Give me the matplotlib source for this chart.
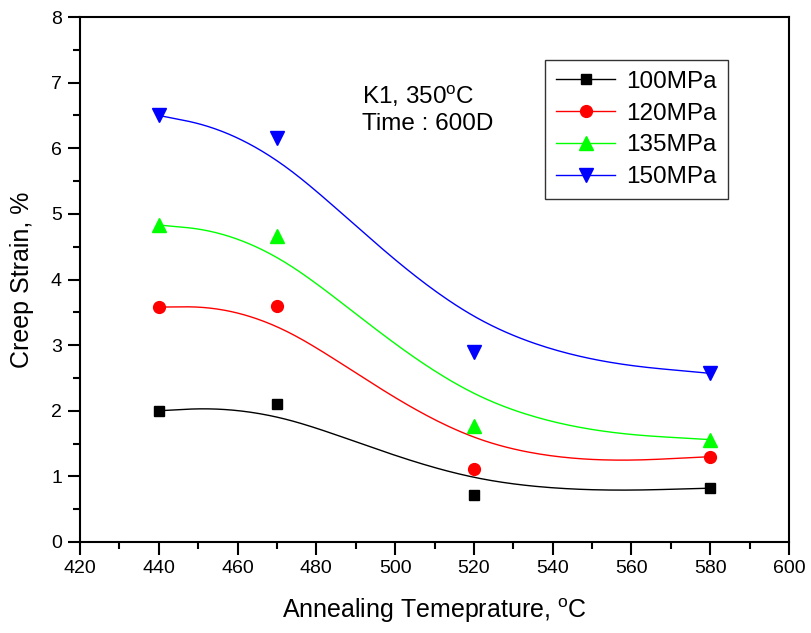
import numpy as np
import matplotlib
matplotlib.use("Agg")
import matplotlib.pyplot as plt
from matplotlib.ticker import MultipleLocator

plt.rcParams['font.family'] = ['Liberation Sans', 'DejaVu Sans']
plt.rcParams['mathtext.fontset'] = 'custom'
plt.rcParams['mathtext.rm'] = 'Liberation Sans'

temps = [440, 470, 520, 580]
s100 = [2.0, 2.1, 0.72, 0.82]
s120 = [3.58, 3.6, 1.12, 1.3]
s135 = [4.83, 4.67, 1.77, 1.56]
s150 = [6.5, 6.15, 2.9, 2.57]
labels = ['100MPa', '120MPa', '135MPa', '150MPa']

series = [s100, s120, s135, s150]
colors = ['#000000', '#FF0000', '#00FF00', '#0000FF']
markers = ['s', 'o', '^', 'v']
msizes = [7.5, 8.5, 9.5, 9.5]


def bspline(xs, ys, n=60):
    """Uniform cubic B-spline, data points as control points, ends tripled."""
    P = np.column_stack([xs, ys]).astype(float)
    Q = np.vstack([P[0], P[0], P, P[-1], P[-1]])
    t = np.linspace(0, 1, n)[:, None]
    b0 = (1 - t) ** 3 / 6
    b1 = (3 * t ** 3 - 6 * t ** 2 + 4) / 6
    b2 = (-3 * t ** 3 + 3 * t ** 2 + 3 * t + 1) / 6
    b3 = t ** 3 / 6
    out = [b0 * Q[i] + b1 * Q[i + 1] + b2 * Q[i + 2] + b3 * Q[i + 3]
           for i in range(len(Q) - 3)]
    pts = np.vstack(out)
    return pts[:, 0], pts[:, 1]


fig = plt.figure(figsize=(8.11, 6.33), dpi=100)
ax = fig.add_axes([80 / 811, 1 - 542 / 633, (789 - 80) / 811, (542 - 17) / 633])

for ys, c, m, ms, lab in zip(series, colors, markers, msizes, labels):
    cx, cy = bspline(temps, ys)
    ax.plot(cx, cy, color=c, lw=1.0)
    ax.plot(temps, ys, ls='none', marker=m, ms=ms, color=c)
    ax.plot([], [], color=c, lw=1.0, marker=m, ms=ms, label=lab)

ax.set_xlim(420, 600)
ax.set_ylim(0, 8)
ax.xaxis.set_major_locator(MultipleLocator(20))
ax.xaxis.set_minor_locator(MultipleLocator(10))
ax.yaxis.set_major_locator(MultipleLocator(1))
ax.yaxis.set_minor_locator(MultipleLocator(0.5))
ax.tick_params(which='major', direction='out', length=9, width=1.5, labelsize=14, pad=4)
ax.tick_params(which='minor', direction='out', length=5, width=1.5)
for sp in ax.spines.values():
    sp.set_linewidth(1.5)

ax.set_xlabel(r'Annealing Temeprature, $^\mathrm{o}$C', fontsize=18, labelpad=14)
ax.set_ylabel('Creep Strain, %', fontsize=18, labelpad=12)

fig.text(362 / 811, 1 - 109 / 633, 'K1, 350$^\\mathrm{o}$C\nTime : 600D', fontsize=17.5,
         va='center', ha='left', linespacing=1.25)

leg = ax.legend(loc='upper left', bbox_to_anchor=((545 - 80) / 709, 1 - (60 - 17) / 525),
                frameon=True, fancybox=False, edgecolor='black', fontsize=17.5,
                handlelength=2.45, handletextpad=0.45, borderpad=0.45, labelspacing=0.4,
                borderaxespad=0)
leg.get_frame().set_linewidth(1.0)

fig.savefig('out.png', dpi=100)
